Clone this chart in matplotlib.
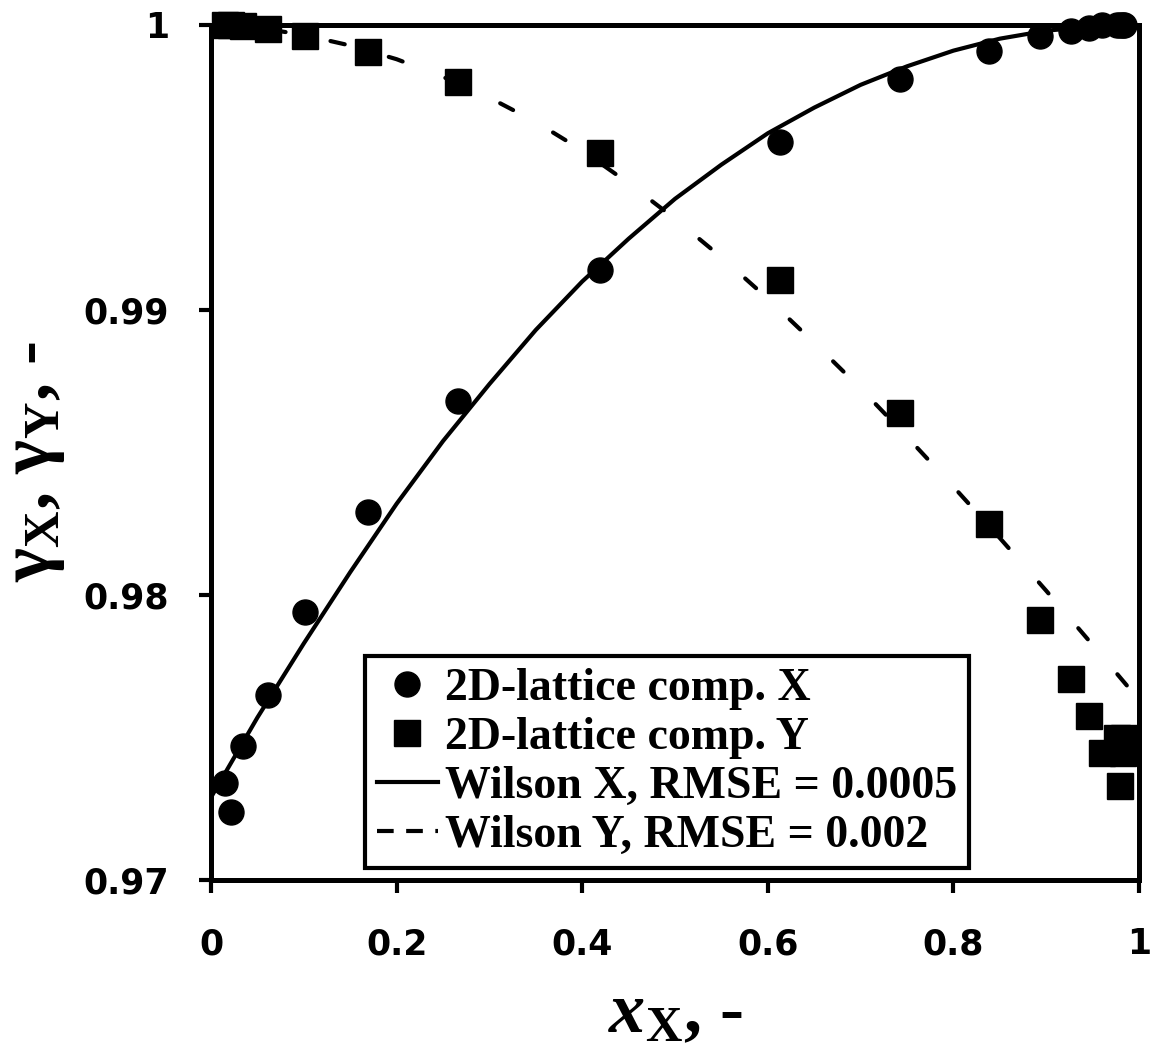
import numpy as np
import matplotlib.pyplot as plt
from matplotlib.lines import Line2D

plt.rcParams['mathtext.fontset'] = 'custom'
plt.rcParams['mathtext.rm'] = 'Liberation Serif:bold'
plt.rcParams['mathtext.it'] = 'Liberation Serif:italic:bold'
plt.rcParams['mathtext.bf'] = 'Liberation Serif:bold'

# 2D-lattice simulation points (mole fraction of X)
x_comp = [0.015, 0.022, 0.034, 0.061, 0.101, 0.169, 0.266, 0.419, 0.613, 0.742,
          0.838, 0.893, 0.927, 0.946, 0.960, 0.976, 0.980, 0.983, 0.984]
gamma_x = [0.9734, 0.9724, 0.9747, 0.9765, 0.9794, 0.9829, 0.9868, 0.9914, 0.9959, 0.9981,
           0.9991, 0.9996, 0.9998, 0.9999, 1.0, 1.0, 1.0, 1.0, 1.0]
gamma_y = [1.0, 1.0, 0.99996, 0.99986, 0.99961, 0.99905, 0.9980, 0.99551, 0.99105, 0.98639,
           0.98249, 0.97912, 0.97705, 0.97575, 0.97446, 0.9750, 0.9733, 0.97446, 0.9750]

# Wilson fits
fit_x = [0.0, 0.05, 0.1, 0.15, 0.2, 0.25, 0.3, 0.35, 0.4, 0.45, 0.5,
         0.55, 0.6, 0.65, 0.7, 0.75, 0.8, 0.85, 0.9, 0.95, 1.0]
wilson_x = [0.9729, 0.9757, 0.9783, 0.9808, 0.9832, 0.9854, 0.9874, 0.9893, 0.9910, 0.9925, 0.9939,
            0.9951, 0.9962, 0.9971, 0.9979, 0.99855, 0.9991, 0.99952, 0.9998, 0.99995, 1.0]
wilson_y = [1.0, 0.99991, 0.99965, 0.99928, 0.99880, 0.99818, 0.99745, 0.99660, 0.99560, 0.99445, 0.99320,
            0.99185, 0.99040, 0.98885, 0.98725, 0.98555, 0.98380, 0.98200, 0.98015, 0.97825, 0.97632]

xticks = [0, 0.2, 0.4, 0.6, 0.8, 1.0]
xtick_labels = ['0', '0.2', '0.4', '0.6', '0.8', '1']
yticks = [0.97, 0.98, 0.99, 1.0]
ytick_labels = ['0.97', '0.98', '0.99', '1']

labels = ['2D-lattice comp. X', '2D-lattice comp. Y',
          'Wilson X, RMSE = 0.0005', 'Wilson Y, RMSE = 0.002']

fig = plt.figure(figsize=(11.54, 10.5), dpi=100)
ax = fig.add_axes([211/1154, 1 - 880/1050, 928/1154, 855/1050])

ax.plot(fit_x, wilson_x, color='k', lw=3, zorder=3)
ax.plot(fit_x, wilson_y, color='k', lw=3, ls=(0, (3.5, 11)), dash_capstyle='round', zorder=3)
ax.plot(x_comp, gamma_x, 'o', ms=18, color='k', clip_on=False, zorder=5)
ax.plot(x_comp, gamma_y, 's', ms=19, color='k', clip_on=False, zorder=5)

ax.set_xlim(0, 1)
ax.set_ylim(0.97, 1.0)
ax.set_xticks(xticks)
ax.set_xticklabels(xtick_labels)
ax.set_yticks(yticks)
ax.set_yticklabels(ytick_labels)
for s in ax.spines.values():
    s.set_linewidth(3.6)
ax.tick_params(direction='out', length=9, width=3, labelsize=25)
ax.tick_params(axis='x', pad=25)
ax.tick_params(axis='y', pad=21)
for t in ax.get_xticklabels() + ax.get_yticklabels():
    t.set_fontweight('bold')

ax.set_xlabel(r'$x_{\mathbf{X}}$, -', fontsize=52, family='Liberation Serif', weight='bold')
ax.xaxis.set_label_coords(0.5, -0.12)
ax.set_ylabel(r'$\mathrm{\gamma}_{\mathbf{X}}$, $\mathrm{\gamma}_{\mathbf{Y}}$, -', fontsize=52,
              family='Liberation Serif', weight='bold')
ax.yaxis.set_label_coords(-0.155, 0.49)

handles = [Line2D([], [], marker='o', ls='none', color='k', ms=18),
           Line2D([], [], marker='s', ls='none', color='k', ms=19),
           Line2D([], [], color='k', lw=3),
           Line2D([], [], color='k', lw=3, ls=(0, (4, 3)))]
leg = ax.legend(handles, labels, loc='lower left', bbox_to_anchor=(0.166, 0.014),
                borderaxespad=0, fancybox=False, framealpha=1, edgecolor='k',
                prop={'family': 'Liberation Serif', 'weight': 'bold', 'size': 33},
                handlelength=1.35, handletextpad=0.15, labelspacing=0.15,
                borderpad=0.25)
leg.get_frame().set_linewidth(3)

fig.savefig('out.png', dpi=100)
